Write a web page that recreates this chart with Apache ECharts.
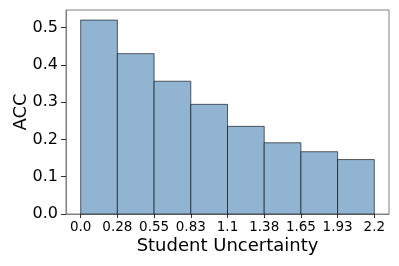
<!DOCTYPE html>
<html>
<head>
<meta charset="utf-8">
<script src="https://cdn.jsdelivr.net/npm/echarts@6/dist/echarts.min.js"></script>
<style>html,body{margin:0;padding:0;background:#fff}#c{width:399px;height:266px}</style>
</head>
<body>
<div id="c"></div>
<script>
// Bin edges (Student Uncertainty) and ACC per bin
const binEdges = [0.0, 0.275, 0.55, 0.825, 1.1, 1.375, 1.65, 1.925, 2.2];
const accValues = [0.520, 0.430, 0.356, 0.294, 0.235, 0.191, 0.167, 0.146];
const xTickValues = [0.0, 0.275, 0.55, 0.825, 1.1, 1.375, 1.65, 1.925, 2.2];
const xTickLabels = ['0.0', '0.28', '0.55', '0.83', '1.1', '1.38', '1.65', '1.93', '2.2'];
const yTickLabels = ['0.0', '0.1', '0.2', '0.3', '0.4', '0.5'];

const data = accValues.map((v, i) => [binEdges[i], binEdges[i + 1], v]);
const font = 'DejaVu Sans';

const chart = echarts.init(document.getElementById('c'), null, {renderer: 'canvas'});
chart.setOption({
  animation: false,
  grid: {left: 66, right: 10, top: 10, bottom: 52, show: true, borderColor: '#808080', borderWidth: 1,
         containLabel: false, outerBoundsMode: 'none'},
  xAxis: {
    type: 'value', min: -0.11, max: 2.31,
    name: 'Student Uncertainty', nameLocation: 'middle', nameGap: 23, nameMoveOverlap: false,
    nameTextStyle: {fontFamily: font, fontSize: 18, color: '#000'},
    splitLine: {show: false},
    axisLine: {show: true, onZero: false, lineStyle: {color: '#808080', width: 1}},
    axisTick: {show: true, length: 4, lineStyle: {color: '#333'}, customValues: xTickValues},
    axisLabel: {
      fontFamily: font, fontSize: 13.5, color: '#000', margin: 6,
      customValues: xTickValues,
      formatter: (v) => { const i = xTickValues.findIndex(t => Math.abs(t - v) < 1e-6); return i >= 0 ? xTickLabels[i] : ''; }
    }
  },
  yAxis: {
    type: 'value', min: 0, max: 0.547, interval: 0.1,
    name: 'ACC', nameLocation: 'middle', nameGap: 36, nameRotate: 90, nameMoveOverlap: false,
    nameTextStyle: {fontFamily: font, fontSize: 18, color: '#000'},
    splitLine: {show: false},
    axisLine: {show: true, onZero: false, lineStyle: {color: '#808080', width: 1}},
    axisTick: {show: true, length: 5, lineStyle: {color: '#333'}},
    axisLabel: {
      fontFamily: font, fontSize: 16, color: '#000', margin: 8, showMaxLabel: false,
      formatter: (v) => { const i = Math.round(v * 10); return (Math.abs(v * 10 - i) < 1e-6 && yTickLabels[i]) ? yTickLabels[i] : ''; }
    }
  },
  series: [{
    type: 'custom',
    data: data,
    encode: {x: [0, 1], y: 2},
    renderItem: function (params, api) {
      const p0 = api.coord([api.value(0), api.value(2)]);
      const p1 = api.coord([api.value(1), 0]);
      return {
        type: 'rect',
        shape: {x: p0[0], y: p0[1], width: p1[0] - p0[0], height: p1[1] - p0[1]},
        style: {fill: '#90B4D2', stroke: 'rgba(0,0,0,0.6)', lineWidth: 1}
      };
    }
  }]
});
</script>
</body>
</html>
